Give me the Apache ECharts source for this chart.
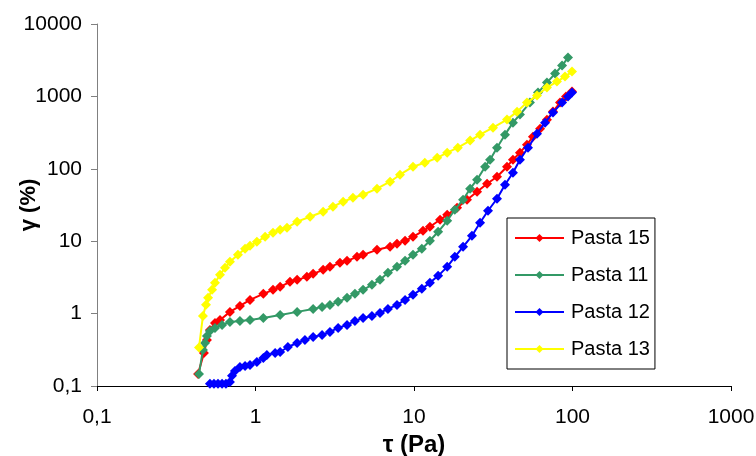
<!DOCTYPE html>
<html>
<head>
<meta charset="utf-8">
<script src="https://cdn.jsdelivr.net/npm/echarts@6/dist/echarts.min.js"></script>
<style>
  html, body { margin: 0; padding: 0; background: #fff; }
  #chart { width: 756px; height: 456px; }
</style>
</head>
<body>
<div id="chart"></div>
<script>
// Shear stress (Pa) and strain (%) readings for each paste
const pasta15Tau = [0.434, 0.473, 0.494, 0.516, 0.555, 0.597, 0.690, 0.798, 0.923, 1.12, 1.29, 1.43, 1.65, 1.83, 2.11, 2.31, 2.67, 2.95, 3.41, 3.78, 4.37, 4.77, 5.84, 7.06, 7.81, 8.78, 9.86, 11.4, 12.6, 14.6, 16.2, 18.7, 21.6, 25.0, 28.9, 33.4, 38.6, 42.1, 46.6, 51.6, 56.3, 62.4, 69.0, 75.3, 83.4, 91.0, 99.3];
const pasta15Gamma = [0.147, 0.286, 0.433, 0.595, 0.744, 0.818, 1.056, 1.278, 1.547, 1.873, 2.127, 2.341, 2.745, 2.925, 3.218, 3.541, 4.022, 4.425, 5.026, 5.357, 6.084, 6.484, 7.603, 8.366, 9.204, 10.13, 11.51, 13.93, 15.82, 19.77, 23.19, 28.97, 37.38, 48.23, 62.23, 77.74, 106.9, 133.6, 167.0, 215.4, 278.0, 358.5, 477.6, 616.3, 820.7, 993.6, 1165];

const pasta11Tau = [0.440, 0.466, 0.480, 0.494, 0.516, 0.555, 0.615, 0.690, 0.798, 0.923, 1.12, 1.43, 1.83, 2.31, 2.63, 2.95, 3.32, 3.78, 4.24, 4.77, 5.43, 6.10, 6.85, 7.81, 8.78, 9.86, 11.2, 12.6, 14.2, 16.2, 18.1, 20.4, 22.6, 25.0, 28.1, 30.2, 33.4, 37.5, 42.1, 46.6, 53.9, 60.6, 69.0, 77.6, 85.9, 93.7];
const pasta11Gamma = [0.147, 0.315, 0.393, 0.492, 0.576, 0.634, 0.698, 0.768, 0.793, 0.818, 0.872, 0.959, 1.056, 1.161, 1.238, 1.319, 1.452, 1.649, 1.873, 2.127, 2.495, 2.925, 3.656, 4.425, 5.357, 6.484, 7.850, 10.13, 13.49, 19.15, 27.19, 37.38, 53.07, 70.68, 106.9, 133.6, 195.8, 296.2, 434.1, 560.2, 820.7, 1129, 1552, 2067, 2667, 3442];

const pasta12Tau = [0.516, 0.547, 0.580, 0.615, 0.651, 0.690, 0.711, 0.742, 0.798, 0.859, 0.923, 1.02, 1.12, 1.18, 1.33, 1.43, 1.60, 1.83, 2.05, 2.31, 2.63, 2.95, 3.32, 3.78, 4.24, 4.77, 5.43, 6.10, 6.85, 7.81, 8.78, 9.86, 11.2, 12.6, 14.2, 16.2, 18.1, 20.4, 23.2, 26.1, 29.3, 33.4, 37.5, 42.1, 46.6, 52.4, 59.7, 67.1, 75.3, 85.9, 93.7, 99.3];
const pasta12Gamma = [0.107, 0.107, 0.107, 0.107, 0.107, 0.114, 0.138, 0.161, 0.183, 0.189, 0.195, 0.215, 0.244, 0.269, 0.286, 0.295, 0.346, 0.393, 0.433, 0.476, 0.508, 0.558, 0.634, 0.698, 0.793, 0.872, 0.929, 1.023, 1.161, 1.319, 1.547, 1.814, 2.196, 2.659, 3.322, 4.425, 6.084, 8.366, 11.88, 17.97, 26.34, 38.59, 60.28, 88.34, 133.6, 195.8, 305.8, 434.1, 597.0, 820.7, 993.6, 1129];

const pasta13Tau = [0.44, 0.466, 0.487, 0.502, 0.532, 0.555, 0.597, 0.642, 0.690, 0.775, 0.859, 0.923, 1.02, 1.15, 1.29, 1.43, 1.58, 1.83, 2.21, 2.67, 3.08, 3.57, 4.12, 4.77, 5.84, 7.06, 8.16, 9.86, 11.7, 14.0, 16.2, 18.9, 22.6, 26.1, 31.5, 38.6, 44.7, 51.6, 59.7, 69.0, 79.8, 89.7, 99.3];
const pasta13Gamma = [0.34, 0.93, 1.32, 1.65, 2.13, 2.66, 3.43, 4.29, 5.19, 6.48, 7.85, 8.64, 9.81, 11.5, 13.1, 14.4, 15.3, 18.6, 21.8, 25.5, 29.9, 35.1, 39.8, 43.8, 53.1, 66.3, 82.9, 107, 121, 142, 167, 196, 245, 296, 370, 478, 616, 821, 1026, 1324, 1602, 1879, 2203];

const seriesNames = ['Pasta 15', 'Pasta 11', 'Pasta 12', 'Pasta 13'];
const seriesColors = ['#FF0000', '#339966', '#0000FF', '#FFFF00'];
const seriesTau = [pasta15Tau, pasta11Tau, pasta12Tau, pasta13Tau];
const seriesGamma = [pasta15Gamma, pasta11Gamma, pasta12Gamma, pasta13Gamma];

const FONT = "'Liberation Sans', Arial, sans-serif";

// log-axis tick labels use a decimal comma
function commaLabel(v) {
  return String(+Number(v).toPrecision(6)).replace('.', ',');
}

const chart = echarts.init(document.getElementById('chart'), null, { renderer: 'canvas' });

chart.setOption({
  animation: false,
  backgroundColor: '#ffffff',
  grid: { left: 97, right: 25, top: 24, bottom: 70, containLabel: false, outerBoundsMode: 'none' },
  xAxis: {
    type: 'log',
    logBase: 10,
    min: 0.1,
    max: 1000,
    name: 'τ (Pa)',
    nameLocation: 'middle',
    nameGap: 47,
    nameMoveOverlap: false,
    nameTextStyle: { fontFamily: FONT, fontSize: 24, fontWeight: 'bold', color: '#000' },
    axisLine: { lineStyle: { color: '#000', width: 1 } },
    axisTick: { show: true, length: 5, inside: false, lineStyle: { color: '#000' } },
    axisLabel: { fontFamily: FONT, fontSize: 21, color: '#000', margin: 21, formatter: commaLabel },
    splitLine: { show: false },
    minorTick: { show: false }
  },
  yAxis: {
    type: 'log',
    logBase: 10,
    min: 0.1,
    max: 10000,
    name: 'γ (%)',
    nameLocation: 'middle',
    nameGap: 57,
    nameMoveOverlap: false,
    nameTextStyle: { fontFamily: FONT, fontSize: 22, fontWeight: 'bold', color: '#000' },
    axisLine: { show: true, lineStyle: { color: '#808080', width: 1 } },
    axisTick: { show: true, length: 6, inside: false, lineStyle: { color: '#808080' } },
    axisLabel: { fontFamily: FONT, fontSize: 21, color: '#000', margin: 15, formatter: commaLabel },
    splitLine: { show: false },
    minorTick: { show: false }
  },
  legend: {
    orient: 'vertical',
    left: 507,
    top: 218,
    data: seriesNames,
    backgroundColor: '#fff',
    borderColor: '#000',
    borderWidth: 1,
    padding: [10, 5, 10, 7],
    itemGap: 17,
    itemWidth: 49,
    itemHeight: 10,
    textStyle: { fontFamily: FONT, fontSize: 20, color: '#000', padding: [0, 0, 0, 2] }
  },
  series: seriesNames.map((name, i) => ({
    name: name,
    type: 'line',
    data: seriesTau[i].map((t, k) => [t, seriesGamma[i][k]]),
    symbol: 'diamond',
    symbolSize: 10,
    showAllSymbol: true,
    clip: false,
    color: seriesColors[i],
    itemStyle: { color: seriesColors[i] },
    lineStyle: { color: seriesColors[i], width: 2 },
    z: 2 + i
  }))
});
</script>
</body>
</html>
